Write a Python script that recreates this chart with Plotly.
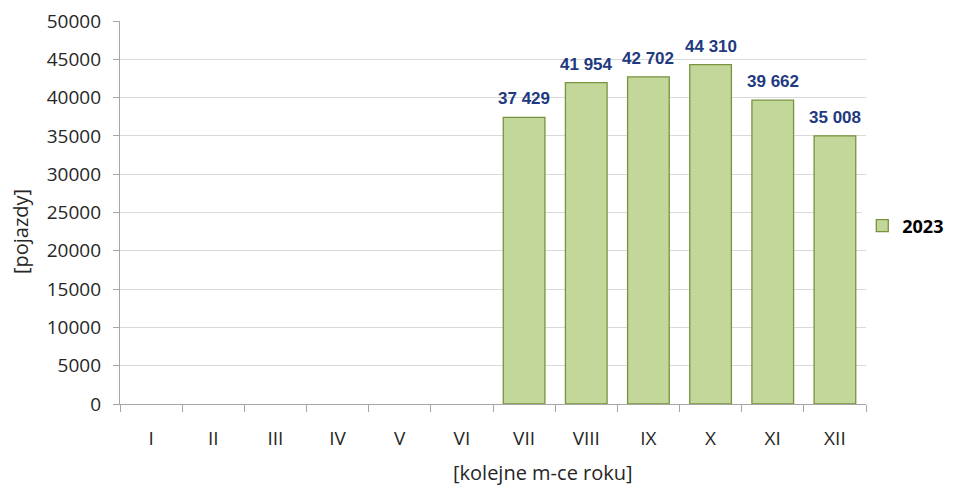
import plotly.graph_objects as go

# ── data ──────────────────────────────────────────────────────────────────────
MONTHS = ["I", "II", "III", "IV", "V", "VI", "VII", "VIII", "IX", "X", "XI", "XII"]
VEHICLES_2023 = [None, None, None, None, None, None,
                 37429, 41954, 42702, 44310, 39662, 35008]
SERIES_NAME = "2023"
Y_TICKS = [0, 5000, 10000, 15000, 20000, 25000, 30000, 35000, 40000, 45000, 50000]

# ── palette ───────────────────────────────────────────────────────────────────
BAR_FILL = "#C4D79B"
BAR_EDGE = "#77933C"
LABEL    = "#1F3A7F"
TEXT     = "#262626"
AXIS     = "#A6A6A6"
GRID     = "#D9D9D9"
FONT     = "Open Sans, Arial, sans-serif"

fig = go.Figure()
fig.add_trace(go.Bar(
    x=MONTHS, y=VEHICLES_2023, name=SERIES_NAME,
    marker=dict(color=BAR_FILL, line=dict(color=BAR_EDGE, width=1.3)),
))

# value labels above bars (space as thousands separator)
for m, v in zip(MONTHS, VEHICLES_2023):
    if v is None:
        continue
    fig.add_annotation(
        x=m, y=v, text=f"{v:,}".replace(",", " "),
        showarrow=False, yanchor="bottom", yshift=7,
        font=dict(family="Liberation Sans", size=17, color=LABEL, weight="bold"),
    )

# axis titles sit off-centre in the original, so place them as annotations
fig.add_annotation(text="[kolejne m-ce roku]", xref="paper", yref="paper",
                   x=0.567, y=0, yshift=-68, yanchor="middle", showarrow=False,
                   font=dict(family=FONT, size=20, color=TEXT))
fig.add_annotation(text="[pojazdy]", xref="paper", yref="paper",
                   x=0, xshift=-100, y=0.449, textangle=-90,
                   xanchor="center", yanchor="middle", showarrow=False,
                   font=dict(family=FONT, size=20, color=TEXT))

# page body has an 8px margin, so the figure is 8px smaller than the window
fig.update_layout(
    width=947, height=482,
    paper_bgcolor="white", plot_bgcolor="white",
    font=dict(family=FONT, color=TEXT, size=20),
    margin=dict(l=112, r=89, t=13, b=86, autoexpand=False),
    bargap=0.33,
    showlegend=True,
    legend=dict(x=0.995, y=0.465, xanchor="left", yanchor="middle",
                font=dict(family=FONT, size=18, weight="bold", color="#000000"),
                itemwidth=30),
    xaxis=dict(
        type="category", categoryorder="array", categoryarray=MONTHS,
        tickson="boundaries", ticks="outside", ticklen=7, tickcolor=AXIS,
        showline=True, linecolor=AXIS, linewidth=1.3, showgrid=False,
        ticklabelstandoff=17, automargin=False,
        tickfont=dict(family=FONT, size=19, color=TEXT),
    ),
    yaxis=dict(
        range=[0, 50000], tickvals=Y_TICKS, tickformat="d",
        ticks="outside", ticklen=6, tickcolor=AXIS,
        showline=True, linecolor=AXIS, linewidth=1.3,
        gridcolor=GRID, gridwidth=1.3, zeroline=False, automargin=False,
        ticklabelstandoff=8, ticklabeloverflow="allow",
        tickfont=dict(family=FONT, size=19, color=TEXT),
    ),
)

fig.write_html("out.html")
